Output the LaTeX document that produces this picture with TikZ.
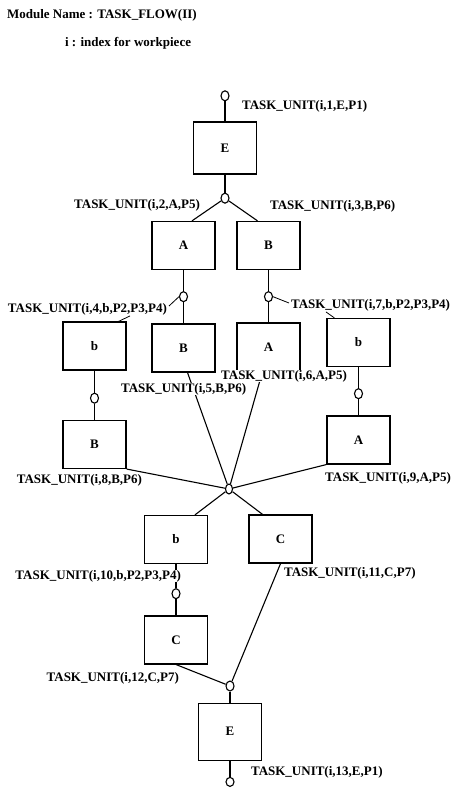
\documentclass[tikz,border=0pt]{standalone}
\usepackage{fontspec}
\setmainfont{Liberation Serif}
\usetikzlibrary{positioning}
\usetikzlibrary{shapes.geometric}

\tikzset{
  task/.style={draw, line width=1.3pt, minimum width=63pt, minimum height=48pt,
    inner sep=0pt, font=\fontsize{13}{15}\selectfont\bfseries},
  joint/.style={draw, ellipse, minimum width=8pt, minimum height=10pt, inner sep=0pt},
  tname/.style={inner sep=0.5pt, font=\fontsize{13}{15}\selectfont\bfseries},
}

\begin{document}
\begin{tikzpicture}[x=1pt, y=-1pt, line width=1.1pt]
\useasboundingbox (0,0) rectangle (454,789);

\node[tname, anchor=west] (title) at (6,15) {Module Name : TASK\_FLOW(II)};
\node[tname, anchor=west] (sub) at (64,43) {i : index for workpiece};

% E, unit 1
\node[task, minimum height=52pt] (E1) at (225,148) {E};
\node[joint, above=20pt of E1] (c1) {};
\node[tname, anchor=west] (L1) at (241,106) {TASK\_UNIT(i,1,E,P1)};
\draw (c1) -- (E1);

% A and B, units 2 and 3
\node[joint, below=18pt of E1] (j1) {};
\node[task] (A2) at (183.5,245.5) {A};
\node[task] (B3) at (268.5,245.5) {B};
\draw (E1) -- (j1);
\draw (j1) -- ([xshift=8.5pt]A2.north);
\draw (j1) -- ([xshift=-11pt]B3.north);
\node[tname, anchor=east] (L2) at (201,205) {TASK\_UNIT(i,2,A,P5)};
\node[tname, anchor=west] (L3) at (269,206) {TASK\_UNIT(i,3,B,P6)};

% units 4 to 7
\node[joint, below=21pt of A2] (c4) {};
\node[joint, below=21pt of B3] (c7) {};
\node[task, below=21pt of c4] (B5) {B};
\node[task, below=20pt of c7] (A6) {A};
\node[task] (b4) at (94.5,346) {b};
\node[task] (b7) at (358.5,342.5) {b};
\draw (A2) -- (c4) -- (B5);
\draw (B3) -- (c7) -- (A6);
\node[tname, anchor=east] (L4) at (168,309) {TASK\_UNIT(i,4,b,P2,P3,P4)};
\node[tname, anchor=west] (L7) at (290,305) {TASK\_UNIT(i,7,b,P2,P3,P4)};
\draw[line width=0.8pt] (c4.west) -- ([shift={(1pt,3pt)}]L4.east);
\draw[line width=0.8pt] (c7.east) -- ([shift={(-1pt,2pt)}]L7.west);
\draw[line width=0.8pt] ([xshift=-8pt]b4.north east) -- ([xshift=-38pt]L4.south east);
\draw[line width=0.8pt] ([xshift=8pt]b7.north west) -- ([xshift=36pt]L7.south west);

% units 8 and 9
\node[joint, below=22pt of b4] (c8) {};
\node[task, below=16pt of c8] (B8) {B};
\node[joint, below=21pt of b7] (c9) {};
\node[task, below=16pt of c9] (A9) {A};
\draw (b4) -- (c8) -- (B8);
\draw (b7) -- (c9) -- (A9);
\node[tname, anchor=east] (L8) at (143,480) {TASK\_UNIT(i,8,B,P6)};
\node[tname, anchor=east] (L9) at (452,478) {TASK\_UNIT(i,9,A,P5)};

% units 10 and 11
\node[joint, minimum width=7pt] (j2) at (229,489) {};
\node[task] (b10) at (176,539.5) {b};
\node[task] (C11) at (280.5,539) {C};
\draw ([xshift=4pt]B5.south) -- (j2);
\draw ([xshift=-6pt]A6.south) -- (j2);
\draw (B8.south east) -- (j2);
\draw (A9.south west) -- (j2);
\draw (j2) -- ([xshift=19pt]b10.north);
\draw (j2) -- ([xshift=-18pt]C11.north);
\node[tname, fill=white, anchor=east] (L6) at (348,376) {TASK\_UNIT(i,6,A,P5)};
\node[tname, fill=white, anchor=west] (L5) at (120,389) {TASK\_UNIT(i,5,B,P6)};

% units 12 and 13
\node[joint, below=24pt of b10] (c10) {};
\node[task, below=16pt of c10] (C12) {C};
\draw (b10) -- (c10) -- (C12);
\node[tname, fill=white, anchor=east] (L10) at (182,576) {TASK\_UNIT(i,10,b,P2,P3,P4)};
\node[tname, anchor=west] (L11) at (283,573) {TASK\_UNIT(i,11,C,P7)};
\node[joint] (j3) at (230,686) {};
\draw (C12.south) -- (j3);
\draw (C11.south) -- (j3);
\node[tname, anchor=east] (L12) at (180,678) {TASK\_UNIT(i,12,C,P7)};
\node[task, minimum height=57pt, below=11pt of j3] (E13) {E};
\node[joint, minimum height=9pt, below=16pt of E13] (c13) {};
\draw (j3) -- (E13) -- (c13);
\node[tname, anchor=west] (L13) at (250,772) {TASK\_UNIT(i,13,E,P1)};
\end{tikzpicture}
\end{document}
